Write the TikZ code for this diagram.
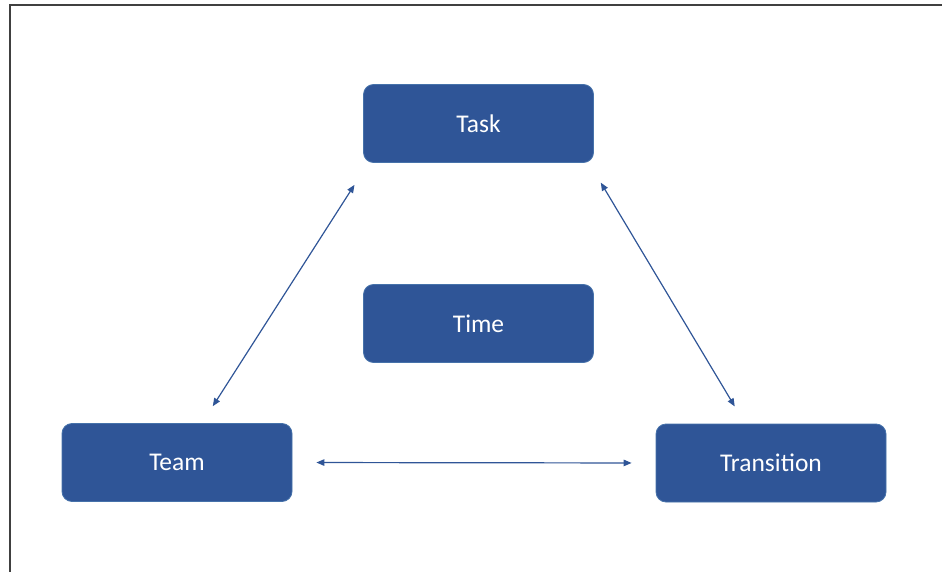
\documentclass[tikz,border=0pt]{standalone}
\usepackage{fontspec}
\setmainfont{Carlito}
\usetikzlibrary{arrows.meta}
\definecolor{boxblue}{RGB}{47,85,151}
\definecolor{boxedge}{RGB}{70,114,170}
\definecolor{framegray}{RGB}{64,64,64}

\begin{document}
\begin{tikzpicture}[x=1pt,y=-1pt,line width=1.2pt,>={Triangle[length=8pt,width=6.5pt]},
  box/.style={draw=boxedge,line width=0.8pt,fill=boxblue,rounded corners=10pt,minimum width=230pt,minimum height=78pt,text=white,font=\fontsize{25.5}{30}\selectfont},
  link/.style={<->,color=boxblue}]
\useasboundingbox (0,0) rectangle (942,572);
\draw[color=framegray,line width=2pt] (10,573) -- (10,5.5) -- (943,5.5);
\node[box] (task) at (478.5,123.5) {Task};
\node[box] (time) at (478.5,323.5) {Time};
\node[box] (team) at (177,462.5) {Team};
\node[box] (trans) at (771,463) {Transition};
\draw[link,shorten <=20pt,shorten >=26pt] ([xshift=25pt]team.north) -- ([xshift=-110pt]task.south);
\draw[link,shorten <=23pt,shorten >=20pt] ([xshift=110.5pt]task.south) -- ([xshift=-26pt]trans.north);
\draw[link,shorten <=24pt,shorten >=24pt] (team.east) -- (trans.west);
\end{tikzpicture}
\end{document}
